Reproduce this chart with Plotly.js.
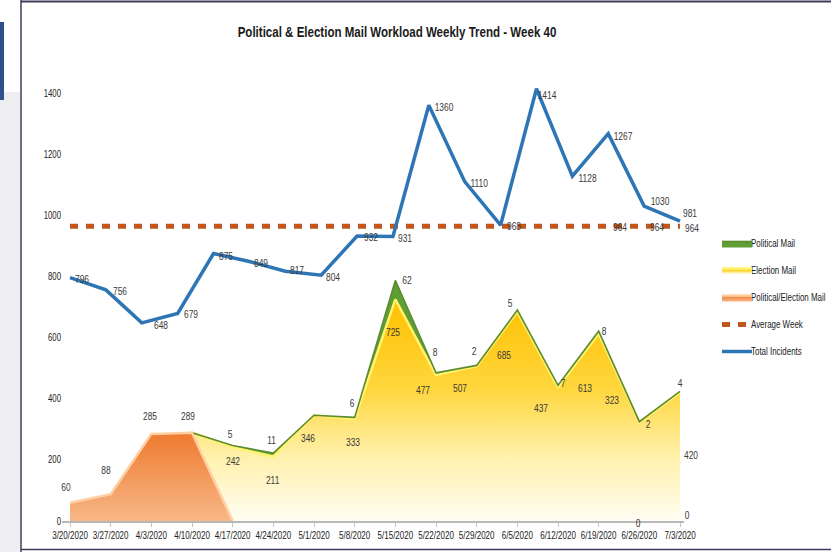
<!DOCTYPE html>
<html>
<head>
<meta charset="utf-8">
<script src="https://cdn.plot.ly/plotly-3.0.1.min.js"></script>
<style>
html,body{margin:0;padding:0;background:#fff;}
#chart{width:831px;height:552px;}
</style>
</head>
<body>
<div id="chart"></div>
<script>
// ---- data ----
const weeks = ['3/20/2020','3/27/2020','4/3/2020','4/10/2020','4/17/2020','4/24/2020','5/1/2020','5/8/2020',
  '5/15/2020','5/22/2020','5/29/2020','6/5/2020','6/12/2020','6/19/2020','6/26/2020','7/3/2020'];
const politicalElectionMail = [60, 88, 285, 289, 0, 0, 0, 0, 0, 0, 0, 0, 0, 0, 0, 0];
const electionMail = [0, 0, 0, 289, 242, 211, 346, 333, 725, 477, 507, 685, 437, 613, 323, 420];
const politicalMail = [0, 0, 0, 0, 5, 11, 0, 6, 62, 8, 2, 5, 7, 8, 2, 4];
const incidentPeriods = ['P1','P2','P3','P4','P5','P6','P7','P8','P9','P10','P11','P12','P13','P14','P15','P16','P17','P18'];
const totalIncidents = [796, 756, 648, 679, 875, 849, 817, 804, 932, 931, 1360, 1110, 968, 1414, 1128, 1267, 1030, 981];
const averageWeek = 964;
const yTicks = [0, 200, 400, 600, 800, 1000, 1200, 1400];

// ---- label placement (pixel offsets dx, dy-down); null = no label ----
const electionLabelOff = [null,null,null,null,[0,14],[-1,23],[-6,23],[-2,23],[-2,33],[-13,15],[-17,22],[-13,43],[-17,21],[-14,54],[-27,-22],[11,62]];
const politicalLabelOff = [null,null,null,null,[-3,-11],[-2,-13],null,[-3,-14],[12,0],[-1,-21],[-3,-14],[-7,-7],[5,-2],[5,0],[9,2],[0,-8]];
const peLabelOff = [[-4,-16],[-5,-24],[-1,-18],[-4,-17],null,null,null,null,null,null,null,null,null,null,[-1,2],[7,-6]];
const totalLabelOff = [[12,1],[14,1],[19,2],[13,1],[12,2],[12,2],[12,-1],[12,2],[14,1],[12,2],[15,2],[14,1],[13,1],[11,6],[15,2],[15,2],[16,-5],[10,-8]];
const avgLabelOff = [null,null,null,null,null,null,null,null,null,null,null,null,null,null,null,[12,1],[13,1],[12,2]];

const FONT = "'Liberation Sans',Arial,sans-serif";
const NARROW = 0.78;   // horizontal squeeze to mimic a condensed face
const LBL = {family: FONT, size: 10.8, color: '#3a3a3a'};

// the orange series only shows while it is non-zero (plus the drop to zero)
const peEnd = politicalElectionMail.findIndex((v, i) => i > 0 && v === 0) + 1;

const traces = [
  {
    name: 'Election Mail', x: weeks, y: electionMail, type: 'scatter', mode: 'lines',
    stackgroup: 'mail', legendrank: 2, legendgroup: 'g2',
    line: {color: '#fff36e', width: 2.5},
    fillgradient: {type: 'vertical', colorscale: [[0,'#fffdf3'],[0.3,'#fff0a8'],[0.6,'#ffd63c'],[1,'#ffc000']]},
    hoverinfo: 'skip'
  },
  {
    name: 'Political Mail', x: weeks, y: politicalMail, type: 'scatter', mode: 'lines',
    stackgroup: 'mail', legendrank: 1, legendgroup: 'g1',
    line: {color: '#5d8c2f', width: 1.6}, fillcolor: '#5f9e34',
    hoverinfo: 'skip'
  },
  {
    name: 'Political/Election Mail', x: weeks.slice(0, peEnd), y: politicalElectionMail.slice(0, peEnd),
    type: 'scatter', mode: 'lines', fill: 'tozeroy', legendrank: 3, legendgroup: 'g3',
    line: {color: '#ffd0a4', width: 2.5},
    fillgradient: {type: 'vertical', colorscale: [[0,'#f7b786'],[1,'#ef7a30']]},
    hoverinfo: 'skip'
  },
  {
    name: 'Average Week', x: incidentPeriods, y: incidentPeriods.map(() => averageWeek),
    xaxis: 'x2', yaxis: 'y', type: 'scatter', mode: 'lines', legendrank: 4, legendgroup: 'g4',
    line: {color: '#c0561b', width: 5, dash: '8px,8px'}, hoverinfo: 'skip'
  },
  {
    name: 'Total Incidents', x: incidentPeriods, y: totalIncidents,
    xaxis: 'x2', yaxis: 'y', type: 'scatter', mode: 'lines', legendrank: 5, legendgroup: 'g5',
    line: {color: '#2e75b6', width: 3.5}, hoverinfo: 'skip'
  }
];

const annotations = [];
function addLabels(xs, ys, texts, offs, xref) {
  xs.forEach((x, i) => {
    const o = offs[i];
    if (!o || ys[i] === null) return;
    annotations.push({x: x, y: ys[i], xref: xref, yref: 'y', text: String(texts[i]),
      showarrow: false, xshift: o[0], yshift: -o[1], font: LBL});
  });
}
const stackedTop = electionMail.map((v, i) => v + politicalMail[i]);
addLabels(weeks, electionMail, electionMail, electionLabelOff, 'x');
addLabels(weeks, stackedTop, politicalMail, politicalLabelOff, 'x');
addLabels(weeks, politicalElectionMail, politicalElectionMail, peLabelOff, 'x');
addLabels(incidentPeriods, totalIncidents, totalIncidents, totalLabelOff, 'x2');
addLabels(incidentPeriods, incidentPeriods.map(() => averageWeek), incidentPeriods.map(() => averageWeek), avgLabelOff, 'x2');

// frame decoration (paper coords: plot area x 62..684 px, y 80..521 px)
const px = p => (p - 62) / 622;
const py = p => (521 - p) / 441;
const shapes = [
  {type: 'rect', xref: 'paper', yref: 'paper', x0: px(0), x1: px(20), y0: py(552), y1: py(92), fillcolor: '#eeeef1', line: {width: 0}, layer: 'below'},
  {type: 'rect', xref: 'paper', yref: 'paper', x0: px(0), x1: px(4), y0: py(100), y1: py(22), fillcolor: '#2f4f8f', line: {width: 0}, layer: 'below'},
  {type: 'line', xref: 'paper', yref: 'paper', x0: px(21), x1: px(21), y0: py(552), y1: py(0), line: {color: '#3c3c5c', width: 1.5}},
  {type: 'line', xref: 'paper', yref: 'paper', x0: px(21), x1: px(831), y0: py(1.5), y1: py(1.5), line: {color: '#3c3c5c', width: 2}},
  {type: 'line', xref: 'paper', yref: 'paper', x0: px(21), x1: px(831), y0: py(549.5), y1: py(549.5), line: {color: '#3c3c5c', width: 1.5}}
];

const layout = {
  width: 831, height: 552,
  margin: {l: 62, r: 147, t: 80, b: 31, autoexpand: false},
  paper_bgcolor: '#ffffff', plot_bgcolor: 'rgba(0,0,0,0)',
  font: {family: FONT, size: 10, color: '#222'},
  title: {text: 'Political & Election Mail Workload Weekly Trend - Week 40',
    x: 397 / 831, xref: 'container', xanchor: 'center', y: 1 - 32 / 552, yref: 'container', yanchor: 'middle',
    font: {family: FONT, size: 14.8, color: '#1a1a1a', weight: 'bold'}},
  xaxis: {type: 'category', range: [-0.197, 15.098], tickmode: 'array', tickvals: weeks, ticktext: weeks,
    tickangle: 0, showline: true, linecolor: '#b8b8b8', linewidth: 2, ticks: 'outside', ticklen: 4,
    tickcolor: '#c4c4c4', showgrid: false, zeroline: false, automargin: false,
    tickfont: {family: FONT, size: 10.3, color: '#222'}},
  xaxis2: {type: 'category', overlaying: 'x', range: [-0.223, 17.111], visible: false},
  yaxis: {range: [0, 1442.6], tickmode: 'array', tickvals: yTicks, showgrid: false, zeroline: false, automargin: false,
    showline: false, ticks: '', tickfont: {family: FONT, size: 10, color: '#222'}},
  legend: {x: px(717), y: py(229), xanchor: 'left', yanchor: 'top', font: {family: FONT, size: 10.2, color: '#222'},
    tracegroupgap: 8, bgcolor: 'rgba(0,0,0,0)'},
  showlegend: true,
  shapes: shapes,
  annotations: annotations
};

function squeezeText(root, s) {
  // legend labels sit a little closer to their swatches in the reference
  root.querySelectorAll('text.legendtext').forEach(t => {
    t.setAttribute('x', (parseFloat(t.getAttribute('x')) || 0) - 6);
  });
  root.querySelectorAll('text').forEach(t => {
    const x = parseFloat(t.getAttribute('x')) || 0;
    const tr = t.getAttribute('transform') || '';
    t.setAttribute('transform', (tr + ' translate(' + x + ',0) scale(' + s + ',1) translate(' + (-x) + ',0)').trim());
  });
}

Plotly.newPlot('chart', traces, layout, {displayModeBar: false, staticPlot: true})
  .then(gd => squeezeText(gd, NARROW));
</script>
</body>
</html>
